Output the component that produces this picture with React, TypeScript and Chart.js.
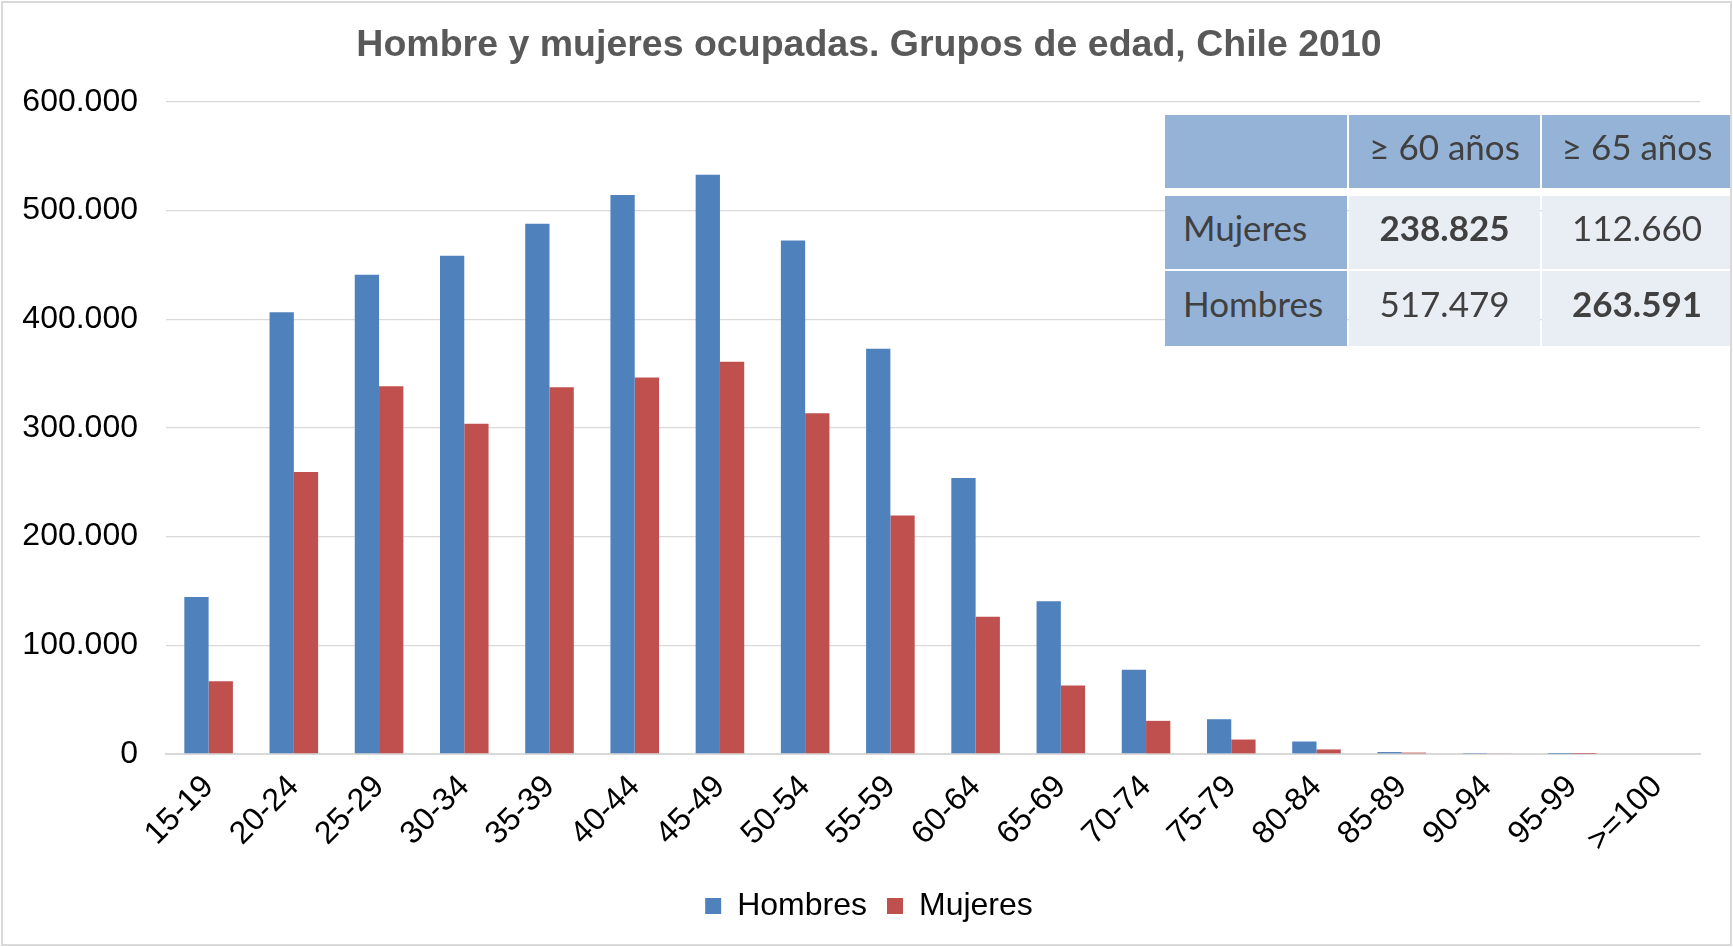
import React, { useEffect, useRef } from "react";
import { Chart, registerables } from "chart.js";

Chart.register(...registerables);

const categories = ["15-19", "20-24", "25-29", "30-34", "35-39", "40-44", "45-49", "50-54", "55-59", "60-64", "65-69", "70-74", "75-79", "80-84", "85-89", "90-94", "95-99", ">=100"];
const hombres = [144500, 406500, 441000, 458500, 488000, 514500, 533000, 472500, 373000, 254000, 140500, 77500, 32000, 11500, 1800, 250, 10, 0];
const mujeres = [67000, 259500, 338500, 304000, 337500, 346500, 361000, 313500, 219500, 126200, 63000, 30500, 13300, 4200, 1300, 500, 10, 0];

const chartTitle = "Hombre y mujeres ocupadas. Grupos de edad, Chile 2010";
const seriesNames = ["Hombres", "Mujeres"];

const tableHeaders = ["", "≥ 60 años", "≥ 65 años"];
const tableRowLabels = ["Mujeres", "Hombres"];
const tableValues60 = ["238.825", "517.479"];
const tableValues65 = ["112.660", "263.591"];
const tableBold60 = [true, false];
const tableBold65 = [false, true];

const fmt = (v: number) => String(Math.round(v)).replace(/\B(?=(\d{3})+(?!\d))/g, ".");

const ARIAL = '"Liberation Sans", Arial, sans-serif';
const TABLE_FONT = 'Lato, "Noto Sans", sans-serif';

const colX = [1165, 1349, 1542];
const colW = [182, 191, 190];
const rowY = [115, 196, 271];
const rowH = [73, 73, 75];

function Cell(props: { r: number; c: number; text: string; bold?: boolean; dark: boolean; align: "left" | "center" }) {
  const { r, c, text, bold, dark, align } = props;
  return (
    <div
      style={{
        position: "absolute",
        left: colX[c],
        top: rowY[r],
        width: colW[c],
        height: rowH[r],
        background: dark ? "#95B3D7" : "#E9EDF4",
        color: "#404040",
        fontFamily: TABLE_FONT,
        fontSize: 35,
        fontWeight: bold ? 700 : 400,
        display: "flex",
        alignItems: "center",
        justifyContent: align === "center" ? "center" : "flex-start",
        paddingLeft: align === "left" ? 18 : 0,
        paddingBottom: 12,
        boxSizing: "border-box",
        whiteSpace: "nowrap",
      }}
    >
      {text}
    </div>
  );
}

const centerShift = {
  id: "centerShift",
  afterLayout(chart: any) {
    if (chart.titleBlock) chart.titleBlock.left = 38;
    if (chart.legend) chart.legend.left = 38;
  },
};

export default function App() {
  const ref = useRef<HTMLCanvasElement | null>(null);

  useEffect(() => {
    if (!ref.current) return;
    const chart = new Chart(ref.current, {
      type: "bar",
      data: {
        labels: categories,
        datasets: [
          { label: seriesNames[0], data: hombres, backgroundColor: "#4F81BD", categoryPercentage: 0.57, barPercentage: 1 },
          { label: seriesNames[1], data: mujeres, backgroundColor: "#C0504D", categoryPercentage: 0.57, barPercentage: 1 },
        ],
      },
      plugins: [centerShift],
      options: {
        animation: false,
        responsive: false,
        maintainAspectRatio: false,
        layout: { padding: { left: 0, right: 33, top: 0, bottom: 15 } },
        plugins: {
          title: {
            display: true,
            text: chartTitle,
            color: "#595959",
            font: { family: ARIAL, size: 37.5, weight: "bold" },
            padding: { top: 23, bottom: 34 },
          },
          legend: {
            position: "bottom",
            labels: {
              boxWidth: 16,
              boxHeight: 16,
              color: "#000000",
              font: { family: ARIAL, size: 32 },
              padding: 20,
            },
          },
          tooltip: { enabled: false },
        },
        scales: {
          x: {
            grid: { display: false, drawTicks: false },
            border: { color: "#D9D9D9", width: 2 },
            ticks: {
              minRotation: 45,
              maxRotation: 45,
              color: "#000000",
              font: { family: ARIAL, size: 32 },
              padding: 14,
              autoSkip: false,
            },
            afterFit: (s: any) => {
              s.height = 116;
            },
          },
          y: {
            min: 0,
            max: 600000,
            ticks: {
              stepSize: 100000,
              callback: (v: any) => fmt(Number(v)),
              color: "#000000",
              font: { family: ARIAL, size: 32 },
              padding: 28,
            },
            grid: { color: "#D9D9D9", lineWidth: 1.3, drawTicks: false },
            border: { display: false },
            afterFit: (s: any) => {
              s.width = 166;
            },
          },
        },
      },
    });
    return () => chart.destroy();
  }, []);

  const cells: any[] = [];
  tableHeaders.forEach((h, c) => cells.push(<Cell key={"h" + c} r={0} c={c} text={h} dark={true} align="center" />));
  tableRowLabels.forEach((lab, i) => {
    cells.push(<Cell key={"l" + i} r={i + 1} c={0} text={lab} dark={true} align="left" />);
    cells.push(<Cell key={"a" + i} r={i + 1} c={1} text={tableValues60[i]} bold={tableBold60[i]} dark={false} align="center" />);
    cells.push(<Cell key={"b" + i} r={i + 1} c={2} text={tableValues65[i]} bold={tableBold65[i]} dark={false} align="center" />);
  });

  return (
    <div style={{ position: "fixed", left: 0, top: 0, width: 1733, height: 947, background: "#fff", overflow: "hidden" }}>
      <canvas ref={ref} width={1733} height={947} style={{ position: "absolute", left: 0, top: 0, width: 1733, height: 947 }} />
      {cells}
      <div
        style={{
          position: "absolute",
          left: 1,
          top: 1,
          width: 1731,
          height: 945,
          border: "2px solid #D9D9D9",
          boxSizing: "border-box",
          pointerEvents: "none",
        }}
      />
    </div>
  );
}
